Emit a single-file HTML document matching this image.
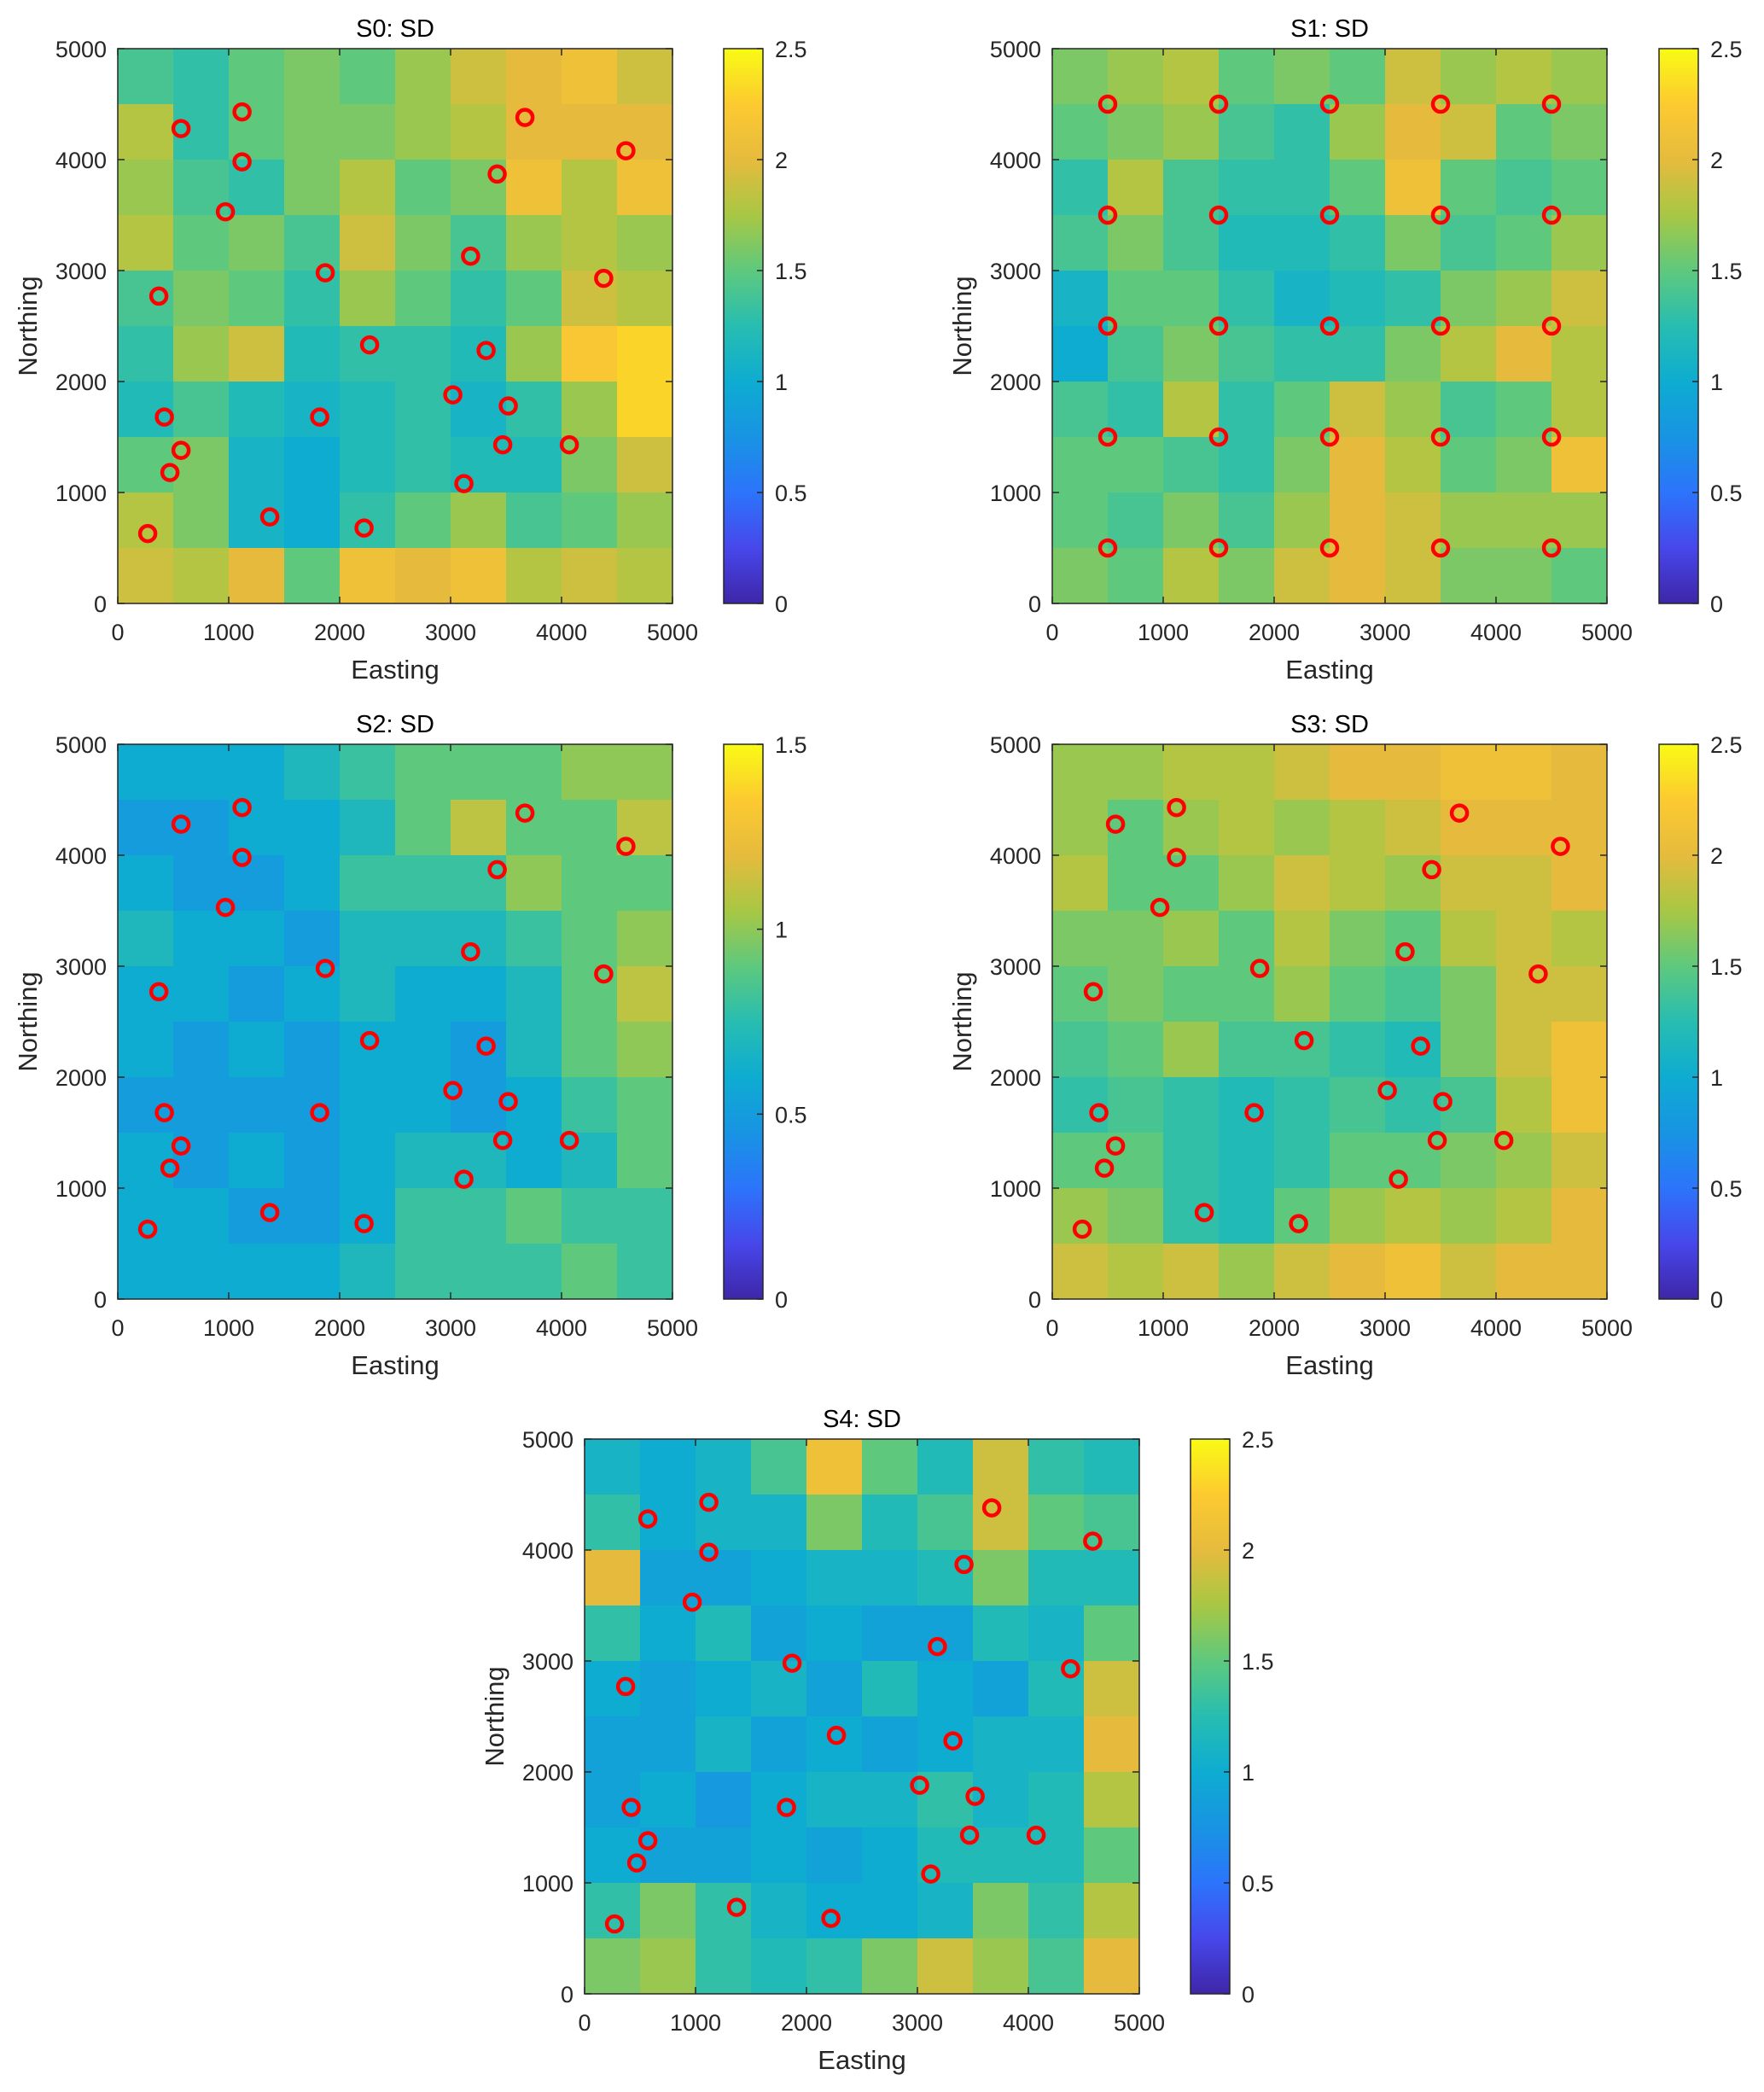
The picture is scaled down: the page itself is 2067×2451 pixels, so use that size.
<!DOCTYPE html>
<html><head><meta charset="utf-8">
<style>
html,body{margin:0;padding:0;background:#fff;}
svg{display:block;font-family:"Liberation Sans",sans-serif;}
</style></head>
<body>
<svg id="fig" width="2067" height="2451" viewBox="0 0 2067 2451" xmlns="http://www.w3.org/2000/svg"></svg>
<script>
// ---- data ----
const stationE = [570,1120,1120,970,3670,4580,3420,3180,1870,4380,370,2270,3320,3020,3520,420,1820,570,3470,4070,470,3120,1370,2220,270];
const stationN = [4280,4430,3980,3530,4380,4080,3870,3130,2980,2930,2770,2330,2280,1880,1780,1680,1680,1380,1430,1430,1180,1080,780,680,630];
const gridE = [500,1500,2500,3500,4500];
const gridN = [500,1500,2500,3500,4500];
const axisTicks = [0,1000,2000,3000,4000,5000];
const cbTicksA = [0,0.5,1,1.5,2,2.5];
const cbTicksB = [0,0.5,1,1.5];
const titles = ["S0: SD","S1: SD","S2: SD","S3: SD","S4: SD"];
const sdS0 = [
[1.4,1.3,1.5,1.6,1.5,1.7,1.9,2.0,2.1,1.9],
[1.8,1.3,1.5,1.6,1.6,1.7,1.8,2.0,2.0,2.0],
[1.7,1.4,1.3,1.6,1.8,1.5,1.6,2.1,1.8,2.1],
[1.8,1.5,1.6,1.4,1.9,1.6,1.4,1.7,1.8,1.7],
[1.4,1.6,1.5,1.3,1.7,1.5,1.3,1.5,1.9,1.8],
[1.3,1.7,1.9,1.2,1.3,1.3,1.2,1.7,2.2,2.3],
[1.2,1.4,1.2,1.1,1.2,1.3,1.1,1.3,1.7,2.3],
[1.5,1.6,1.1,1.0,1.2,1.3,1.2,1.2,1.6,1.9],
[1.8,1.6,1.1,1.0,1.3,1.5,1.7,1.4,1.5,1.7],
[1.9,1.8,2.0,1.5,2.1,2.0,2.1,1.8,1.9,1.8]];
const sdS1 = [
[1.6,1.7,1.8,1.5,1.6,1.5,1.9,1.7,1.8,1.7],
[1.5,1.6,1.7,1.4,1.3,1.7,2.0,1.9,1.5,1.6],
[1.3,1.8,1.4,1.3,1.3,1.5,2.1,1.5,1.4,1.5],
[1.4,1.6,1.4,1.2,1.2,1.3,1.6,1.4,1.5,1.7],
[1.1,1.5,1.5,1.3,1.1,1.2,1.3,1.6,1.7,1.9],
[1.0,1.4,1.6,1.4,1.3,1.3,1.6,1.8,2.0,1.8],
[1.4,1.3,1.8,1.3,1.5,1.9,1.7,1.4,1.5,1.8],
[1.5,1.5,1.4,1.3,1.6,2.0,1.8,1.5,1.6,2.1],
[1.5,1.4,1.6,1.4,1.7,2.0,1.9,1.7,1.7,1.7],
[1.6,1.5,1.8,1.6,1.9,2.0,1.9,1.6,1.6,1.5]];
const sdS2 = [
[0.6,0.6,0.6,0.7,0.8,0.9,0.9,0.9,1.0,1.0],
[0.5,0.5,0.6,0.6,0.7,0.9,1.1,0.9,0.9,1.1],
[0.6,0.5,0.5,0.6,0.8,0.8,0.8,1.0,0.9,0.9],
[0.7,0.6,0.6,0.5,0.7,0.7,0.7,0.8,0.9,1.0],
[0.6,0.6,0.5,0.6,0.7,0.6,0.6,0.7,0.9,1.1],
[0.6,0.5,0.6,0.5,0.6,0.6,0.5,0.7,0.9,1.0],
[0.5,0.5,0.5,0.5,0.6,0.6,0.5,0.6,0.8,0.9],
[0.6,0.5,0.6,0.5,0.6,0.7,0.7,0.6,0.7,0.9],
[0.6,0.6,0.5,0.5,0.6,0.8,0.8,0.9,0.8,0.8],
[0.6,0.6,0.6,0.6,0.7,0.8,0.8,0.8,0.9,0.8]];
const sdS3 = [
[1.7,1.7,1.8,1.8,1.9,2.0,2.0,2.1,2.1,2.0],
[1.7,1.5,1.7,1.8,1.7,1.8,1.9,2.0,2.0,2.0],
[1.8,1.5,1.5,1.7,1.9,1.8,1.7,1.9,1.9,2.0],
[1.6,1.6,1.7,1.5,1.8,1.6,1.5,1.8,1.9,1.8],
[1.5,1.6,1.5,1.5,1.7,1.5,1.4,1.6,1.9,1.9],
[1.4,1.5,1.7,1.4,1.4,1.3,1.2,1.6,1.9,2.1],
[1.3,1.4,1.3,1.2,1.3,1.4,1.3,1.4,1.8,2.1],
[1.5,1.5,1.3,1.2,1.3,1.5,1.5,1.6,1.7,1.9],
[1.7,1.6,1.3,1.2,1.5,1.7,1.8,1.7,1.8,2.0],
[1.9,1.8,1.9,1.7,1.9,2.0,2.1,1.9,2.0,2.0]];
const sdS4 = [
[1.1,1.0,1.1,1.4,2.1,1.5,1.2,1.9,1.3,1.2],
[1.3,1.0,1.1,1.1,1.6,1.2,1.4,1.9,1.5,1.4],
[2.0,0.9,0.9,1.0,1.1,1.1,1.2,1.6,1.2,1.2],
[1.3,1.0,1.2,0.9,1.0,0.9,0.9,1.2,1.1,1.5],
[1.0,0.9,1.0,1.1,0.9,1.2,1.0,0.9,1.2,1.9],
[0.9,0.9,1.1,0.9,1.0,0.9,1.0,1.1,1.1,2.0],
[0.9,1.0,0.8,1.0,1.1,1.1,1.3,1.1,1.2,1.8],
[1.0,0.9,0.9,1.0,0.9,1.0,1.2,1.2,1.2,1.5],
[1.3,1.6,1.3,1.1,1.0,1.0,1.1,1.6,1.3,1.8],
[1.6,1.7,1.3,1.2,1.3,1.6,1.9,1.7,1.4,2.0]];

// ---- layout ----
const NS="http://www.w3.org/2000/svg";
const svg=document.getElementById('fig');
const parula=[[0,[62,38,168]],[0.1,[71,71,235]],[0.2,[44,116,251]],[0.3,[24,148,227]],[0.4,[14,172,209]],[0.5,[39,189,177]],[0.6,[94,201,125]],[0.7,[168,199,68]],[0.8,[230,187,61]],[0.9,[252,202,48]],[1,[249,251,20]]];
function cmap(t){t=Math.max(0,Math.min(1,t));for(let i=1;i<parula.length;i++){if(t<=parula[i][0]){const a=parula[i-1],b=parula[i];const f=(t-a[0])/(b[0]-a[0]);return 'rgb('+a[1].map((v,k)=>Math.round(v+(b[1][k]-v)*f)).join(',')+')';}}return 'rgb(249,251,20)';}
function el(tag,attrs,parent){const e=document.createElementNS(NS,tag);for(const k in attrs)e.setAttribute(k,attrs[k]);(parent||svg).appendChild(e);return e;}
let gid=0;
function panel(px,py,size,cbx,title,data,vmax,cbTicks,ptsE,ptsN){
  const g=el('g',{});
  
  
  const sx=v=>px+v/5000*size, sy=v=>py+size-v/5000*size;
  const n=data.length,m=data[0].length;
  for(let r=0;r<n;r++)for(let c=0;c<m;c++){
    const x0=sx(c*5000/m),x1=sx((c+1)*5000/m),y0=sy(5000-r*5000/n),y1=sy(5000-(r+1)*5000/n);
    const cell=el('rect',{x:x0,y:y0,width:x1-x0+0.5,height:y1-y0+0.5,fill:cmap(data[r][c]/vmax)},g);
    
    
  }
  const box=el('rect',{x:px,y:py,width:size,height:size,fill:'none',stroke:'#262626','stroke-width':1.5},g);
  
  
  axisTicks.forEach(t=>{
    el('line',{x1:sx(t),x2:sx(t),y1:py+size,y2:py+size-8,stroke:'#262626','stroke-width':1.5},g);
    el('line',{x1:sx(t),x2:sx(t),y1:py,y2:py+8,stroke:'#262626','stroke-width':1.5},g);
    el('line',{x1:px,x2:px+8,y1:sy(t),y2:sy(t),stroke:'#262626','stroke-width':1.5},g);
    el('line',{x1:px+size,x2:px+size-8,y1:sy(t),y2:sy(t),stroke:'#262626','stroke-width':1.5},g);
    const xl=el('text',{x:sx(t),y:py+size+43,'font-size':27,'text-anchor':'middle',fill:'#262626'},g);xl.textContent=t;
    
    
    const yl=el('text',{x:px-13,y:sy(t)+10,'font-size':27,'text-anchor':'end',fill:'#262626'},g);yl.textContent=t;
    
    
  });
  for(let i=0;i<ptsE.length;i++){
    const c=el('circle',{cx:sx(ptsE[i]),cy:sy(ptsN[i]),r:9,fill:'none',stroke:'#ff0000','stroke-width':4.5},g);
    
    
  }
  const tt=el('text',{x:px+size/2,y:py-14,'font-size':29,'text-anchor':'middle',fill:'#000'},g);tt.textContent=title;
  
  
  const xt=el('text',{x:px+size/2,y:py+size+88,'font-size':31,'text-anchor':'middle',fill:'#262626'},g);xt.textContent='Easting';
  
  
  const yt=el('text',{x:0,y:0,'font-size':31,'text-anchor':'middle',fill:'#262626',transform:'translate('+(px-95)+','+(py+size/2)+') rotate(-90)'},g);yt.textContent='Northing';
  
  
  // colorbar
  const id='cb'+(gid++);
  const defs=el('defs',{},g);
  const lg=el('linearGradient',{id:id,x1:0,y1:1,x2:0,y2:0},defs);
  parula.forEach(s=>el('stop',{offset:s[0],'stop-color':'rgb('+s[1].join(',')+')'},lg));
  const cbw=46;
  const cb=el('rect',{x:cbx,y:py,width:cbw,height:size,fill:'url(#'+id+')',stroke:'#262626','stroke-width':1.5},g);
  
  
  cbTicks.forEach(t=>{
    const y=py+size-t/vmax*size;
    el('line',{x1:cbx+cbw-7,x2:cbx+cbw,y1:y,y2:y,stroke:'#262626','stroke-width':1.5},g);
    const l=el('text',{x:cbx+cbw+14,y:y+10,'font-size':27,fill:'#262626'},g);l.textContent=t;
    
    
  });
}
const S=650;
panel(138,57,S,848,titles[0],sdS0,2.5,cbTicksA,stationE,stationN);
const g1E=[],g1N=[];gridN.forEach(nv=>gridE.forEach(ev=>{g1E.push(ev);g1N.push(nv);}));
panel(1233,57,S,1944,titles[1],sdS1,2.5,cbTicksA,g1E,g1N);
panel(138,872,S,848,titles[2],sdS2,1.5,cbTicksB,stationE,stationN);
panel(1233,872,S,1944,titles[3],sdS3,2.5,cbTicksA,stationE,stationN);
panel(685,1686,S,1395,titles[4],sdS4,2.5,cbTicksA,stationE,stationN);
</script>
</body></html>
